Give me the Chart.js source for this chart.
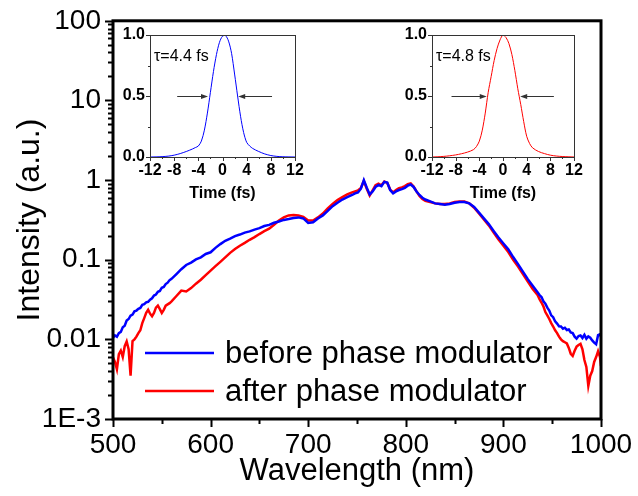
<!DOCTYPE html>
<html>
<head>
<meta charset="utf-8">
<script src="https://cdn.jsdelivr.net/npm/chart.js@4.4.0/dist/chart.umd.min.js"></script>
<style>
  body { margin: 0; background: #fff; }
  #wrap { position: relative; width: 638px; height: 496px; }
  canvas { position: absolute; }
</style>
</head>
<body>
<div id="wrap">
  <canvas id="mainChart" width="638" height="496" style="left:0;top:0"></canvas>
  <canvas id="insetBefore" width="210" height="190" style="left:100px;top:20px"></canvas>
  <canvas id="insetAfter" width="210" height="190" style="left:382px;top:20px"></canvas>
</div>
<script>
// spectrum (nm) and intensities
const wavelength = [
  500,502,504,506,508,510,512,514,516,518,520,522,524,526,528,530,532,534,536,538,540,
  542,544,546,548,550,552,554,556,558,560,
  565,570,575,580,585,590,595,600,605,610,615,620,625,630,635,640,645,650,655,660,
  665,670,675,680,685,690,695,700,705,710,715,720,725,730,735,740,
  745,748,751,754,757,760,763,766,769,772,775,778,781,784,787,790,793,796,799,802,805,808,811,814,817,820,
  825,830,835,840,845,850,855,860,865,870,875,880,885,890,895,900,905,910,915,920,925,930,935,
  937,939,941,943,945,947,949,951,953,955,957,959,961,963,965,967,969,971,973,975,977,979,981,983,985,987,989,991,993,995,997,999,1000
];
const beforeModulator = [
  0.0105,0.0112,0.0108,0.0120,0.0124,0.0142,0.0148,0.0172,0.0180,0.0198,0.0205,0.0225,0.0230,0.0242,0.0248,0.0272,0.0276,0.0292,0.0296,0.0315,0.0328,
  0.0355,0.0365,0.0395,0.0405,0.0445,0.0455,0.0495,0.0515,0.0555,0.0575,
  0.066,0.076,0.086,0.092,0.101,0.107,0.118,0.124,0.141,0.157,0.173,0.184,0.198,0.207,0.219,0.227,0.239,0.249,0.265,0.274,
  0.291,0.302,0.316,0.324,0.334,0.340,0.330,0.290,0.295,0.330,0.360,0.410,0.470,0.520,0.570,0.610,
  0.650,0.680,0.700,0.780,1.000,0.800,0.660,0.720,0.820,0.870,0.840,0.950,0.930,0.750,0.680,0.720,0.750,0.770,0.800,0.850,0.880,0.820,0.720,0.650,0.600,0.570,
  0.540,0.510,0.500,0.490,0.500,0.520,0.530,0.530,0.510,0.460,0.390,0.330,0.280,0.230,0.190,0.160,0.135,0.108,0.088,0.071,0.057,0.047,0.039,
  0.036,0.034,0.030,0.028,0.025,0.023,0.020,0.0190,0.0168,0.0158,0.0146,0.0145,0.0136,0.0140,0.0131,0.0133,0.0122,0.0120,0.0108,0.0102,0.0110,0.0112,0.0104,0.0114,0.0102,0.0109,0.0105,0.0097,0.0091,0.0087,0.0113,0.0116,0.0108
];
const afterModulator = [
  0.0059,0.0052,0.0042,0.0065,0.0072,0.0060,0.0082,0.0094,0.0075,0.0035,0.0095,0.0100,0.0108,0.0120,0.0130,0.0160,0.0185,0.0215,0.0235,0.0210,0.0195,
  0.0215,0.0250,0.0265,0.0240,0.0215,0.0235,0.0265,0.0275,0.0285,0.0300,
  0.0350,0.0410,0.0400,0.0440,0.0500,0.0560,0.0640,0.0730,0.0830,0.0940,0.107,0.122,0.136,0.150,0.163,0.178,0.192,0.210,0.228,0.245,
  0.275,0.310,0.340,0.360,0.365,0.360,0.345,0.310,0.310,0.340,0.380,0.440,0.500,0.560,0.610,0.660,
  0.700,0.720,0.740,0.800,0.970,0.780,0.640,0.740,0.860,0.900,0.860,0.960,0.920,0.760,0.700,0.750,0.790,0.810,0.840,0.890,0.910,0.830,0.720,0.630,0.580,0.550,
  0.530,0.510,0.500,0.500,0.510,0.530,0.540,0.540,0.510,0.450,0.380,0.320,0.270,0.220,0.180,0.150,0.125,0.100,0.082,0.066,0.053,0.043,0.036,
  0.032,0.029,0.026,0.022,0.020,0.018,0.016,0.0145,0.013,0.012,0.0108,0.0100,0.0095,0.0092,0.0089,0.0078,0.0066,0.0062,0.0072,0.0081,0.0085,0.0088,0.0075,0.0055,0.0045,0.0026,0.0035,0.0040,0.0052,0.0060,0.0071,0.0060,0.0046
];
const seriesNames = ["before phase modulator", "after phase modulator"];
const yTickValues = [0.001, 0.01, 0.1, 1, 10, 100];
const yTickLabels = ["1E-3", "0.01", "0.1", "1", "10", "100"];
const xTickValues = [500, 600, 700, 800, 900, 1000];

// insets: pulse in time domain
const timeFs = [-12,-11,-10,-9,-8,-7,-6,-5,-4.5,-4,-3.5,-3,-2.5,-2,-1.5,-1,-0.5,0,0.5,1,1.5,2,2.5,3,3.5,4,4.5,5,6,7,8,9,10,11,12];
const pulseBefore = [0,0.001,0.003,0.007,0.015,0.028,0.045,0.065,0.077,0.09,0.13,0.22,0.36,0.53,0.70,0.84,0.94,0.99,0.995,0.95,0.85,0.68,0.50,0.33,0.20,0.12,0.09,0.07,0.045,0.025,0.012,0.005,0.002,0.001,0];
const pulseAfter  = [0,0.002,0.005,0.010,0.017,0.027,0.040,0.060,0.085,0.13,0.22,0.36,0.53,0.66,0.79,0.89,0.96,1.0,0.98,0.93,0.84,0.71,0.56,0.43,0.29,0.17,0.11,0.075,0.045,0.028,0.015,0.008,0.004,0.002,0];
const insetXTicks = [-12, -8, -4, 0, 4, 8, 12];
const insetYTicks = [0, 0.5, 1];
const widthBefore = "τ=4.4 fs";
const widthAfter = "τ=4.8 fs";
const arrowsBefore = [[-7.5, -2.4], [8.2, 2.6]];
const arrowsAfter = [[-8.7, -2.75], [8.6, 2.9]];

const FONT = "'Liberation Sans', Arial, sans-serif";

const toPoints = (xs, ys) => xs.map((v, i) => ({ x: v, y: ys[i] }));

// frame, ticks, axis titles and legend of the main plot
const mainDecor = {
  id: "mainDecor",
  afterDraw(chart) {
    const { ctx, chartArea: a, scales: { x, y } } = chart;
    ctx.save();
    ctx.strokeStyle = "#000";
    ctx.lineWidth = 2;
    ctx.beginPath();
    // y ticks, major and minor, pointing out
    for (let d = 0.001; d < 99; d *= 10) {
      for (let k = 1; k <= 10; k++) {
        const py = Math.round(y.getPixelForValue(k * d)) + 0.5;
        const len = (k === 1 || k === 10) ? 8 : 5;
        ctx.moveTo(a.left, py);
        ctx.lineTo(a.left - len, py);
      }
    }
    // x ticks
    for (let v = 500; v <= 1000; v += 50) {
      const px = Math.round(x.getPixelForValue(v)) + 0.5;
      const len = v % 100 === 0 ? 8 : 5;
      ctx.moveTo(px, a.bottom);
      ctx.lineTo(px, a.bottom + len);
    }
    ctx.stroke();
    ctx.lineWidth = 3;
    ctx.strokeRect(a.left, a.top, a.right - a.left, a.bottom - a.top);

    ctx.fillStyle = "#000";
    ctx.textAlign = "center";
    ctx.textBaseline = "middle";
    ctx.font = "31px " + FONT;
    ctx.fillText("Wavelength (nm)", (a.left + a.right) / 2, 471);
    ctx.save();
    ctx.translate(30, 220);
    ctx.rotate(-Math.PI / 2);
    ctx.font = "32px " + FONT;
    ctx.fillText("Intensity (a.u.)", 0, 0);
    ctx.restore();

    // legend
    const rows = [353, 391];
    chart.data.datasets.forEach((ds, i) => {
      ctx.strokeStyle = ds.borderColor;
      ctx.lineWidth = 2.5;
      ctx.beginPath();
      ctx.moveTo(145, rows[i]);
      ctx.lineTo(214, rows[i]);
      ctx.stroke();
      ctx.fillStyle = "#000";
      ctx.textAlign = "left";
      ctx.font = "31px " + FONT;
      ctx.fillText(ds.label, 225, rows[i] + 1);
    });
    ctx.restore();
  }
};

new Chart("mainChart", {
  type: "line",
  data: {
    datasets: [{
      label: seriesNames[0],
      data: toPoints(wavelength, beforeModulator),
      borderColor: "#0000ff",
      borderWidth: 2.5,
      pointRadius: 0,
      fill: false
    }, {
      label: seriesNames[1],
      data: toPoints(wavelength, afterModulator),
      borderColor: "#ff0000",
      borderWidth: 2.5,
      pointRadius: 0,
      fill: false
    }]
  },
  options: {
    responsive: false,
    animation: false,
    devicePixelRatio: 1,
    layout: { padding: { left: 0, top: 20, right: 37, bottom: 0 } },
    plugins: { legend: { display: false }, tooltip: { enabled: false } },
    scales: {
      x: {
        type: "linear", min: 500, max: 1000,
        grid: { display: false, drawTicks: true, tickLength: 8 },
        border: { display: false },
        afterBuildTicks: s => { s.ticks = xTickValues.map(v => ({ value: v })); },
        afterFit: s => { s.height = 77; },
        ticks: { font: { family: FONT, size: 28 }, color: "#000", padding: 1, maxRotation: 0, autoSkip: false,
          callback: v => String(v) }
      },
      y: {
        type: "logarithmic", min: 0.001, max: 100,
        grid: { display: false, drawTicks: true, tickLength: 8 },
        border: { display: false },
        afterBuildTicks: s => { s.ticks = yTickValues.map(v => ({ value: v })); },
        afterFit: s => { s.width = 113; },
        ticks: {
          font: { family: FONT, size: 28 }, color: "#000", padding: 4, autoSkip: false,
          callback: v => yTickLabels[yTickValues.indexOf(v)]
        }
      }
    }
  },
  plugins: [mainDecor]
});

// inset frame, ticks, title, FWHM arrows
const insetDecor = {
  id: "insetDecor",
  afterDraw(chart) {
    const { ctx, chartArea: a, scales: { x, y } } = chart;
    const opt = chart.options.plugins.insetDecor;
    ctx.save();
    ctx.strokeStyle = "#333";
    ctx.lineWidth = 1;
    ctx.beginPath();
    for (let v = 0; v <= 1.001; v += 0.25) {
      const py = Math.round(y.getPixelForValue(v)) + 0.5;
      const len = (v * 2) % 1 === 0 ? 4 : 2;
      ctx.moveTo(a.left, py);
      ctx.lineTo(a.left - len, py);
    }
    for (let v = -12; v <= 12; v += 2) {
      const px = Math.round(x.getPixelForValue(v)) + 0.5;
      const len = v % 4 === 0 ? 4 : 2;
      ctx.moveTo(px, a.bottom);
      ctx.lineTo(px, a.bottom + len);
    }
    ctx.stroke();
    ctx.strokeRect(Math.round(a.left) + 0.5, Math.round(a.top) + 0.5,
      Math.round(a.right - a.left), Math.round(a.bottom - a.top));

    // FWHM arrows at half maximum
    ctx.strokeStyle = "#333";
    ctx.fillStyle = "#333";
    opt.arrows.forEach(([from, to]) => {
      const py = Math.round(y.getPixelForValue(0.5)) + 0.5;
      const x1 = x.getPixelForValue(from), x2 = x.getPixelForValue(to);
      const dir = Math.sign(x2 - x1);
      ctx.beginPath();
      ctx.moveTo(x1, py);
      ctx.lineTo(x2 - dir * 5, py);
      ctx.stroke();
      ctx.beginPath();
      ctx.moveTo(x2, py);
      ctx.lineTo(x2 - dir * 7, py - 2.5);
      ctx.lineTo(x2 - dir * 7, py + 2.5);
      ctx.closePath();
      ctx.fill();
    });

    ctx.fillStyle = "#000";
    ctx.textBaseline = "middle";
    ctx.textAlign = "left";
    ctx.font = "16px " + FONT;
    ctx.fillText(opt.label, a.left + 4, y.getPixelForValue(0.82));
    ctx.textAlign = "center";
    ctx.font = "bold 16px " + FONT;
    ctx.fillText("Time (fs)", (a.left + a.right) / 2, 174);
    ctx.restore();
  }
};

function makeInset(id, values, color, label, arrows, rightPad) {
  return new Chart(id, {
    type: "line",
    data: {
      datasets: [{
        data: toPoints(timeFs, values),
        borderColor: color,
        borderWidth: 1,
        pointRadius: 0,
        tension: 0.3,
        fill: false
      }]
    },
    options: {
      responsive: false,
      animation: false,
      devicePixelRatio: 1,
      layout: { padding: { left: 0, top: 15, right: rightPad, bottom: 0 } },
      plugins: {
        legend: { display: false }, tooltip: { enabled: false },
        insetDecor: { label, arrows }
      },
      scales: {
        x: {
          type: "linear", min: -12, max: 12,
          grid: { display: false, drawTicks: true, tickLength: 4 },
          border: { display: false },
          afterBuildTicks: s => { s.ticks = insetXTicks.map(v => ({ value: v })); },
          afterFit: s => { s.height = 53; },
          ticks: { font: { family: FONT, size: 16, weight: "bold" }, color: "#000", padding: 0,
            maxRotation: 0, autoSkip: false, callback: v => String(v) }
        },
        y: {
          type: "linear", min: 0, max: 1,
          grid: { display: false, drawTicks: true, tickLength: 4 },
          border: { display: false },
          afterBuildTicks: s => { s.ticks = insetYTicks.map(v => ({ value: v })); },
          afterFit: s => { s.width = 50; },
          ticks: { font: { family: FONT, size: 16, weight: "bold" }, color: "#000", padding: 1,
            autoSkip: false, callback: v => v.toFixed(1) }
        }
      }
    },
    plugins: [insetDecor]
  });
}

makeInset("insetBefore", pulseBefore, "#0000ff", widthBefore, arrowsBefore, 15);
makeInset("insetAfter", pulseAfter, "#ff0000", widthAfter, arrowsAfter, 18);
</script>
</body>
</html>
